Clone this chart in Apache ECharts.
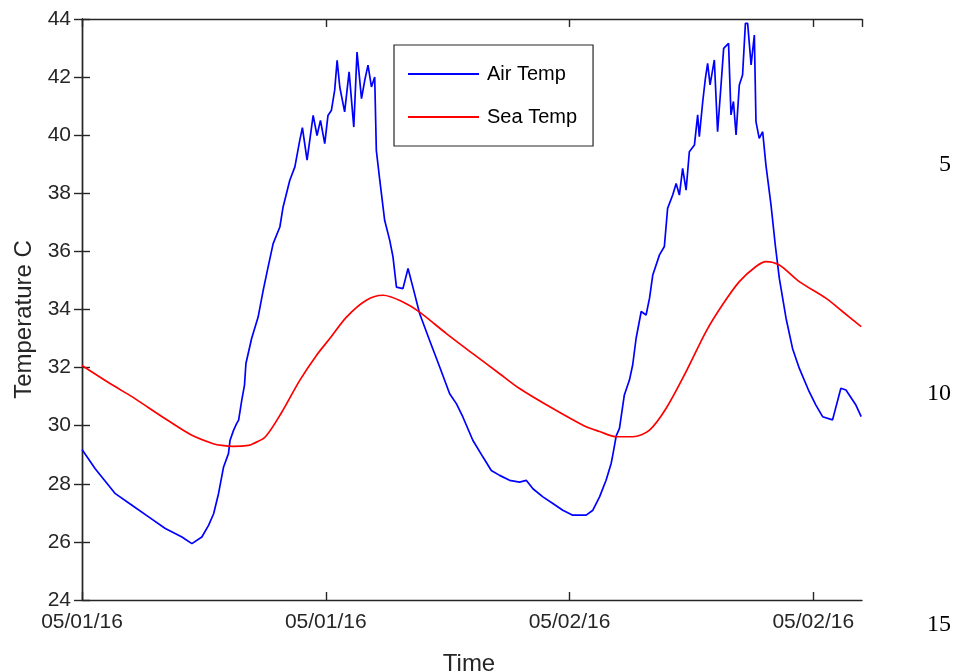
<!DOCTYPE html>
<html>
<head>
<meta charset="utf-8">
<script src="https://cdn.jsdelivr.net/npm/echarts@6/dist/echarts.min.js"></script>
<style>
html,body{margin:0;padding:0;background:#fff;}
#chart{width:954px;height:671px;}
</style>
</head>
<body>
<div id="chart"></div>
<script>
// Hours since 05/01/16 00:00
const airHours = [0.00,0.65,1.64,2.46,3.28,4.10,4.92,5.41,5.90,6.23,6.48,6.72,6.97,7.21,7.29,7.46,7.61,7.71,7.87,8.00,8.07,8.35,8.67,8.92,9.16,9.41,9.74,9.90,10.23,10.48,10.72,10.85,11.08,11.38,11.57,11.74,11.95,12.11,12.28,12.44,12.56,12.69,12.93,13.15,13.38,13.54,13.76,13.92,14.08,14.25,14.41,14.49,14.66,14.90,15.15,15.31,15.48,15.80,16.05,16.29,16.62,17.11,17.61,18.10,18.43,18.75,19.24,19.74,20.15,20.56,21.05,21.54,21.87,22.20,22.69,23.18,23.67,24.16,24.82,25.15,25.48,25.80,26.05,26.13,26.30,26.46,26.70,26.95,27.11,27.28,27.53,27.77,27.94,28.10,28.43,28.67,28.83,29.08,29.25,29.41,29.57,29.74,29.90,30.15,30.31,30.39,30.56,30.69,30.80,30.92,31.13,31.29,31.46,31.59,31.83,31.95,32.07,32.20,32.36,32.52,32.66,32.77,32.94,33.10,33.18,33.34,33.51,33.67,33.92,34.13,34.33,34.66,34.98,35.31,35.80,36.13,36.46,36.95,37.36,37.61,38.10,38.36];
const airTemp = [29.18,28.52,27.66,27.26,26.86,26.46,26.17,25.94,26.17,26.57,26.97,27.66,28.58,29.04,29.50,29.84,30.07,30.19,30.90,31.40,32.14,33.00,33.74,34.66,35.46,36.27,36.84,37.53,38.45,38.91,39.82,40.26,39.14,40.68,39.99,40.51,39.71,40.68,40.86,41.55,42.58,41.66,40.80,42.18,40.28,42.86,41.26,41.89,42.41,41.66,42.00,39.48,38.45,37.07,36.38,35.81,34.77,34.72,35.41,34.77,33.86,32.94,32.02,31.10,30.76,30.30,29.50,28.92,28.46,28.29,28.12,28.06,28.12,27.83,27.55,27.32,27.09,26.92,26.92,27.09,27.55,28.12,28.70,28.99,29.65,29.91,31.06,31.57,32.09,33.01,33.93,33.81,34.39,35.19,35.88,36.17,37.48,37.94,38.34,37.94,38.86,38.11,39.43,39.66,40.70,39.95,41.16,41.96,42.47,41.73,42.59,40.12,41.73,42.99,43.16,40.70,41.16,40.01,41.73,42.07,43.85,43.85,42.42,43.45,40.47,39.89,40.12,38.97,37.60,36.22,35.07,33.70,32.66,31.98,31.17,30.71,30.31,30.20,31.29,31.23,30.71,30.31];
const seaHours = [0.00,1.38,2.46,2.85,4.10,5.41,6.46,6.89,7.44,8.20,8.42,9.02,9.84,10.72,11.54,12.20,13.02,14.00,14.82,15.80,16.62,17.94,19.24,20.56,21.54,23.18,24.82,25.48,26.30,27.11,27.94,28.76,29.74,30.72,31.54,32.36,33.18,33.67,34.33,35.31,36.62,37.44,38.36];
const seaTemp = [32.07,31.45,31.00,30.82,30.24,29.67,29.38,29.32,29.29,29.32,29.38,29.61,30.47,31.56,32.42,33.00,33.74,34.32,34.49,34.26,33.91,33.17,32.48,31.79,31.28,30.59,29.96,29.80,29.62,29.62,29.85,30.60,31.86,33.24,34.17,34.96,35.48,35.65,35.53,34.96,34.39,33.93,33.41];
const xTickLabels = ['05/01/16','05/01/16','05/02/16','05/02/16'];
const seriesNames = ['Air Temp','Sea Temp'];
const sideNumbers = ['5','10','15'];

const airData = airHours.map((h,i)=>[h,airTemp[i]]);
const seaData = seaHours.map((h,i)=>[h,seaTemp[i]]);

const FONT = '"Liberation Sans", Arial, Helvetica, sans-serif';
const AX = '#262626';

const chart = echarts.init(document.getElementById('chart'), null, {renderer:'canvas'});
const axisCommon = {
  axisLine:{show:true, lineStyle:{color:AX, width:1.4}},
  axisTick:{show:true, inside:true, length:8, lineStyle:{color:AX, width:1.4}},
  splitLine:{show:false}
};
chart.setOption({
  animation:false,
  backgroundColor:'#fff',
  grid:{left:82, top:19, width:780, height:581, containLabel:false, outerBoundsMode:'none'},
  legend:{
    data:seriesNames,
    orient:'vertical',
    left:394, top:45,
    width:199,
    backgroundColor:'#fff',
    borderColor:AX, borderWidth:1.2, borderRadius:0,
    padding:[19,16,19,14],
    itemGap:23,
    itemWidth:71, itemHeight:2,
    icon:'rect',
    textStyle:{fontFamily:FONT, fontSize:20, color:'#000', padding:[0,0,0,3], lineHeight:20}
  },
  xAxis:[
    Object.assign({}, axisCommon, {
      type:'value', position:'bottom', min:0, max:38.4, interval:12,
      name:'Time', nameLocation:'middle', nameGap:52,
      nameTextStyle:{fontFamily:FONT, fontSize:24, color:AX, padding:[0,6,0,0]},
      axisLabel:{show:true, margin:12, fontFamily:FONT, fontSize:21, color:AX, showMaxLabel:false,
        formatter:(v)=>{const i=Math.round(v/12); return xTickLabels[i]!==undefined?xTickLabels[i]:'';}}
    }),
    Object.assign({}, axisCommon, {
      type:'value', position:'top', min:0, max:38.4, interval:12,
      axisLabel:{show:false}
    })
  ],
  yAxis:[
    Object.assign({}, axisCommon, {
      type:'value', position:'left', min:24, max:44, interval:2,
      name:'Temperature C', nameLocation:'middle', nameGap:46,
      nameTextStyle:{fontFamily:FONT, fontSize:24, color:AX, padding:[0,20,0,0]},
      axisLabel:{show:true, margin:11, fontFamily:FONT, fontSize:21, color:AX}
    }),
    Object.assign({}, axisCommon, {
      type:'value', position:'right', min:24, max:44, interval:2,
      axisLabel:{show:false}
    })
  ],
  series:[
    {name:seriesNames[0], type:'line', data:airData, xAxisIndex:0, yAxisIndex:0,
     symbol:'none', color:'#0000ff', lineStyle:{color:'#0000ff', width:1.7}},
    {name:seriesNames[1], type:'line', data:seaData, xAxisIndex:0, yAxisIndex:0,
     symbol:'none', smooth:0.3, color:'#ff0000', lineStyle:{color:'#ff0000', width:1.7}}
  ],
  graphic:[
    {type:'text', right:3, top:153, style:{text:sideNumbers[0], font:'24px "Liberation Serif", "Times New Roman", serif', fill:'#000'}},
    {type:'text', right:3, top:382, style:{text:sideNumbers[1], font:'24px "Liberation Serif", "Times New Roman", serif', fill:'#000'}},
    {type:'text', right:3, top:613, style:{text:sideNumbers[2], font:'24px "Liberation Serif", "Times New Roman", serif', fill:'#000'}}
  ]
});
</script>
</body>
</html>
